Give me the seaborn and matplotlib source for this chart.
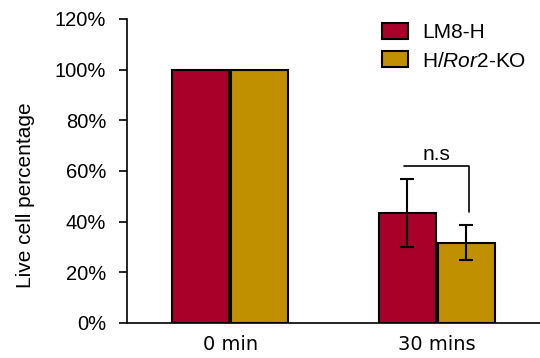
import matplotlib
matplotlib.use("Agg")
import matplotlib.pyplot as plt
import seaborn as sns
import pandas as pd
from matplotlib.ticker import PercentFormatter
from matplotlib.patches import Patch

# Data
times = ["0 min", "30 mins"]
groups = ["LM8-H", "H/Ror2-KO"]
lm8_mean = [100.0, 43.5]
lm8_err = [0.0, 13.4]
ko_mean = [100.0, 31.7]
ko_err = [0.0, 7.0]
yticks = [0, 20, 40, 60, 80, 100, 120]

sns.set_style("ticks")
plt.rcParams["font.family"] = ["Liberation Sans", "DejaVu Sans"]
plt.rcParams["text.color"] = "black"
plt.rcParams["axes.labelcolor"] = "black"
plt.rcParams["mathtext.fontset"] = "custom"
plt.rcParams["mathtext.rm"] = "Liberation Sans"
plt.rcParams["mathtext.it"] = "Liberation Sans:italic"

df = pd.DataFrame({
    "time": times * 2,
    "group": [groups[0]] * 2 + [groups[1]] * 2,
    "value": lm8_mean + ko_mean,
    "err": lm8_err + ko_err,
})

colors = ["#A80028", "#C19000"]

fig = plt.figure(figsize=(5.4, 3.58), dpi=100)
ax = fig.add_axes([0.235, 0.098, 0.765, 0.849])

sns.barplot(data=df, x="time", y="value", hue="group", palette=colors,
            saturation=1, width=0.57, gap=0.035, edgecolor="black",
            linewidth=1.5, errorbar=None, ax=ax, legend=False, zorder=2)

# error bars at bar centres
bars = list(ax.patches)
for p, (_, row) in zip(bars, df.iterrows()):
    if row["err"] > 0:
        cx = p.get_x() + p.get_width() / 2
        ax.errorbar(cx, row["value"], yerr=row["err"], color="black",
                    capsize=5, capthick=1.5, elinewidth=1.5, zorder=3)

# significance bracket between the 30-min bars
red30 = bars[1]
ko30 = bars[3]
x1 = red30.get_x() + red30.get_width() / 2 - 0.015
x2 = ko30.get_x() + ko30.get_width() / 2 + 0.015
ax.plot([x1, x2, x2], [62, 62, 43.8], color="black", lw=1.2, zorder=3)
ax.text((x1 + x2) / 2, 62.6, "n.s", ha="center", va="bottom", fontsize=15)

ax.set_xlim(-0.5, 1.5)
ax.set_ylim(0, 120)
ax.set_yticks(yticks)
ax.yaxis.set_major_formatter(PercentFormatter(decimals=0))
ax.set_xlabel("")
ax.set_ylabel("Live cell percentage", fontsize=15)
ax.yaxis.set_label_coords(-0.222, 0.42)
ax.tick_params(axis="y", labelsize=14.5, length=6, width=1.2, pad=9,
               color="black", labelcolor="black")
ax.tick_params(axis="x", length=0, pad=9, labelcolor="black")
for lbl in ax.get_xticklabels():
    lbl.set_fontfamily("DejaVu Sans")
    lbl.set_fontsize(14)
for s in ["top", "right"]:
    ax.spines[s].set_visible(False)
for s in ["left", "bottom"]:
    ax.spines[s].set_color("black")
    ax.spines[s].set_linewidth(1.2)

handles = [Patch(facecolor=colors[0], edgecolor="black", linewidth=1.5),
           Patch(facecolor=colors[1], edgecolor="black", linewidth=1.5)]
fig.legend(handles, ["LM8-H", r"H/$\it{Ror2}$-KO"], loc="upper left",
           bbox_to_anchor=(363 / 540, 1 - 4 / 358), frameon=False,
           fontsize=15, handlelength=1.25, handleheight=0.8,
           handletextpad=0.7, labelspacing=0.45)

fig.savefig("out.png", dpi=100)
